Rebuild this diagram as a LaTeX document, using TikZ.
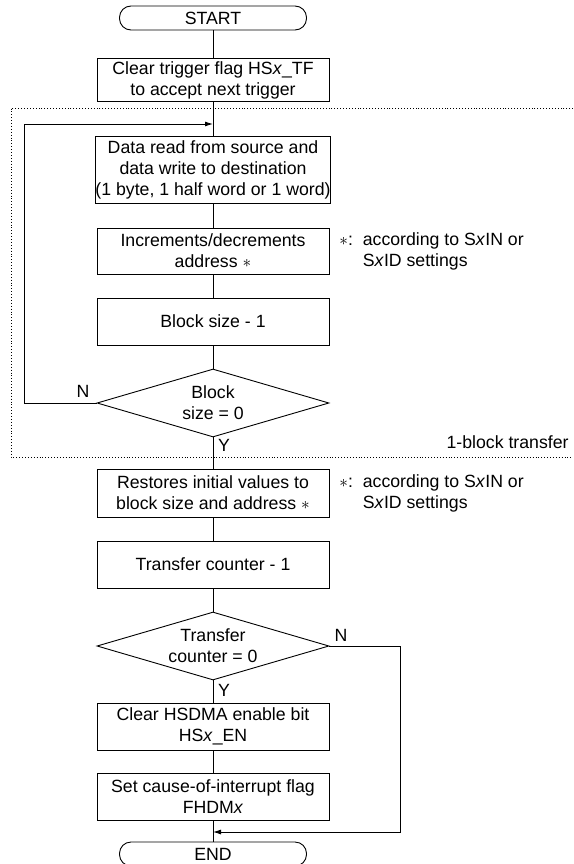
\documentclass[tikz,border=0pt]{standalone}
\usepackage{fontspec}
\setmainfont{Liberation Sans}
\usetikzlibrary{arrows.meta,shapes.geometric}
\begin{document}
\begin{tikzpicture}[x=1pt, y=-1pt, font=\fontsize{17.7}{21}\selectfont,
      >={Latex[length=8pt,width=5pt]}, line width=0.9pt,
      box/.style={draw, align=center, inner sep=0pt, minimum width=232pt},
      term/.style={draw, rounded corners=11.5pt, inner sep=0pt, minimum width=187pt, minimum height=24pt},
      dec/.style={draw, diamond, aspect=3.36, align=center, inner sep=0pt, minimum width=232pt, minimum height=68pt},
      note/.style={align=left, anchor=west, inner sep=0pt}]
    \useasboundingbox (0,0) rectangle (573,864);
    \node[term] (start) at (213,18) {START};
    \node[box, minimum height=43pt] (clear) at (213,80) {Clear trigger flag HS\textit{x}\_TF\\to accept next trigger};
    \node[box, minimum height=67pt] (data) at (213,169.5) {Data read from source and\\data write to destination\\(1 byte, 1 half word or 1 word)};
    \node[box, minimum height=46pt] (incr) at (213,251) {Increments/decrements\\address $\ast$};
    \node[box, minimum height=47pt] (blksize) at (213,321.5) {Block size - 1};
    \node[dec] (blkzero) at (213,403) {Block\\size = 0};
    \node[box, minimum height=48pt] (restore) at (213,493) {Restores initial values to\\block size and address $\ast$};
    \node[box, minimum height=47pt] (tcount) at (213,564.5) {Transfer counter - 1};
    \node[dec] (tczero) at (213,646) {Transfer\\counter = 0};
    \node[box, minimum height=47pt] (clearen) at (213,726.5) {Clear HSDMA enable bit\\HS\textit{x}\_EN};
    \node[box, minimum height=47pt] (setflag) at (213,796.5) {Set cause-of-interrupt flag\\FHDM\textit{x}};
    \node[term] (end) at (213,854) {END};
    \coordinate (loopin) at (213,124);
    \coordinate (endin) at (213,832);
    % 1-block transfer frame
    \draw[dotted] (573,108) -- (11,108) -- (11,457) -- (573,457);
    \node[anchor=east, inner sep=0pt] (blklabel) at (569,442) {1-block transfer};
    % notes
    \node[note] (note1) at (339,251.5) {$\ast$:\ \ according to S\textit{x}IN or\\\hphantom{$\ast$:\ \ }S\textit{x}ID settings};
    \node[note] (note2) at (339,493) {$\ast$:\ \ according to S\textit{x}IN or\\\hphantom{$\ast$:\ \ }S\textit{x}ID settings};
    % flow
    \draw (start) -- (clear);
    \draw (clear) -- (data);
    \draw (data) -- (incr);
    \draw (incr) -- (blksize);
    \draw (blksize) -- (blkzero);
    \draw (blkzero) -- (restore);
    \draw (restore) -- (tcount);
    \draw (tcount) -- (tczero);
    \draw (tczero) -- (clearen);
    \draw (clearen) -- (setflag);
    \draw (setflag) -- (end);
    \draw[->] (blkzero.west) -- ++(-72,0) |- (loopin);
    \draw[->] (tczero.east) -- ++(71,0) |- (endin);
    \node (n1) at (83,391) {N};
    \node (y1) at (224,445) {Y};
    \node (n2) at (341,635) {N};
    \node (y2) at (224,690) {Y};
  \end{tikzpicture}
\end{document}
